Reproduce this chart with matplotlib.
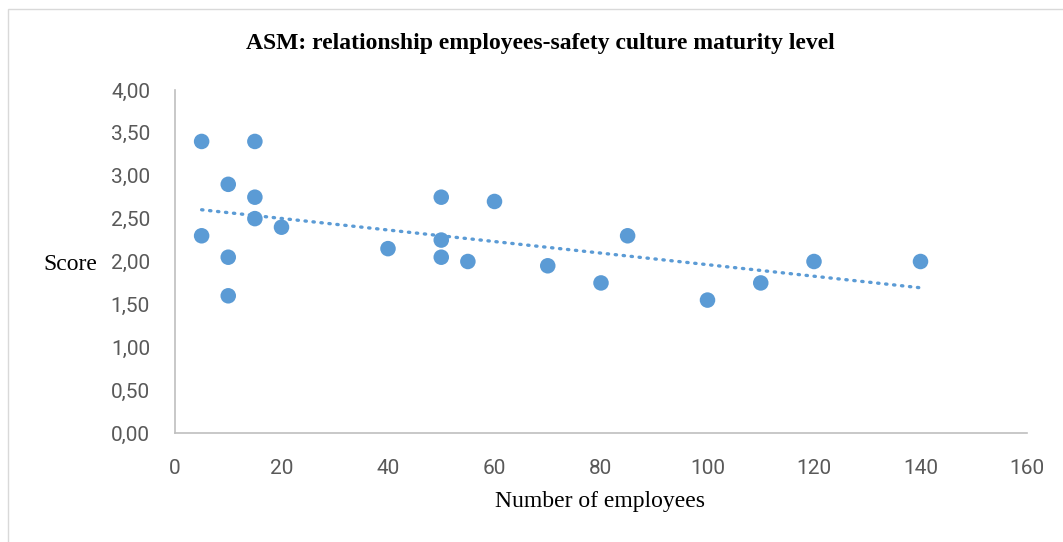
import numpy as np
import matplotlib.pyplot as plt
from matplotlib.patches import Rectangle

# data
employees = [5, 5, 10, 10, 10, 15, 15, 15, 20, 40, 50, 50, 50, 55, 60, 70, 80, 85, 100, 110, 120, 140]
scores = [3.40, 2.30, 2.90, 2.05, 1.60, 3.40, 2.75, 2.50, 2.40, 2.15, 2.75, 2.25, 2.05, 2.00, 2.70,
          1.95, 1.75, 2.30, 1.55, 1.75, 2.00, 2.00]
xticks = [0, 20, 40, 60, 80, 100, 120, 140, 160]
yticks = [0, 0.5, 1.0, 1.5, 2.0, 2.5, 3.0, 3.5, 4.0]

blue = '#5B9BD5'
tick_font = ['Roboto', 'DejaVu Sans']
serif = ['Liberation Serif', 'DejaVu Serif']

fig = plt.figure(figsize=(10.63, 5.42), dpi=100)
fig.patches.append(Rectangle((8 / 1063, -0.01), 1.02, 1 - 9 / 542 + 0.01, transform=fig.transFigure,
                             fill=False, edgecolor='#D9D9D9', lw=1))
ax = fig.add_axes([175 / 1063, 1 - 433 / 542, (1027 - 175) / 1063, (433 - 90) / 542])

# linear trendline
xs = np.array(employees, dtype=float)
ys = np.array(scores)
k, b = np.polyfit(xs, ys, 1)
tx = np.array([xs.min(), xs.max()])
ax.plot(tx, k * tx + b, color=blue, lw=2.4, linestyle=(0, (0.4, 2.0)), dash_capstyle='round', zorder=2)

ax.scatter(employees, scores, s=125, color=blue, edgecolors='none', zorder=3)

ax.set_xlim(0, 160)
ax.set_ylim(0, 4)
ax.set_xticks(xticks)
ax.set_yticks(yticks)
ax.set_yticklabels([('%.2f' % v).replace('.', ',') for v in yticks])
for lab in ax.get_xticklabels() + ax.get_yticklabels():
    lab.set_family(tick_font)
    lab.set_fontsize(15)
    lab.set_color('#595959')
ax.tick_params(axis='x', length=0, pad=19)
ax.tick_params(axis='y', length=0, pad=18)
for s in ['top', 'right']:
    ax.spines[s].set_visible(False)
for s in ['left', 'bottom']:
    ax.spines[s].set_color('#BFBFBF')
    ax.spines[s].set_linewidth(1.2)

fig.text(540 / 1063, 1 - 44 / 542, 'ASM: relationship employees-safety culture maturity level',
         ha='center', va='center', family=serif, fontweight='bold', fontsize=17)
fig.text(600 / 1063, 1 - 502 / 542, 'Number of employees', ha='center', va='center', family=serif, fontsize=17)
fig.text(70 / 1063, 1 - 265 / 542, 'Score', ha='center', va='center', family=serif, fontsize=17)

fig.savefig('out.png', dpi=100)
